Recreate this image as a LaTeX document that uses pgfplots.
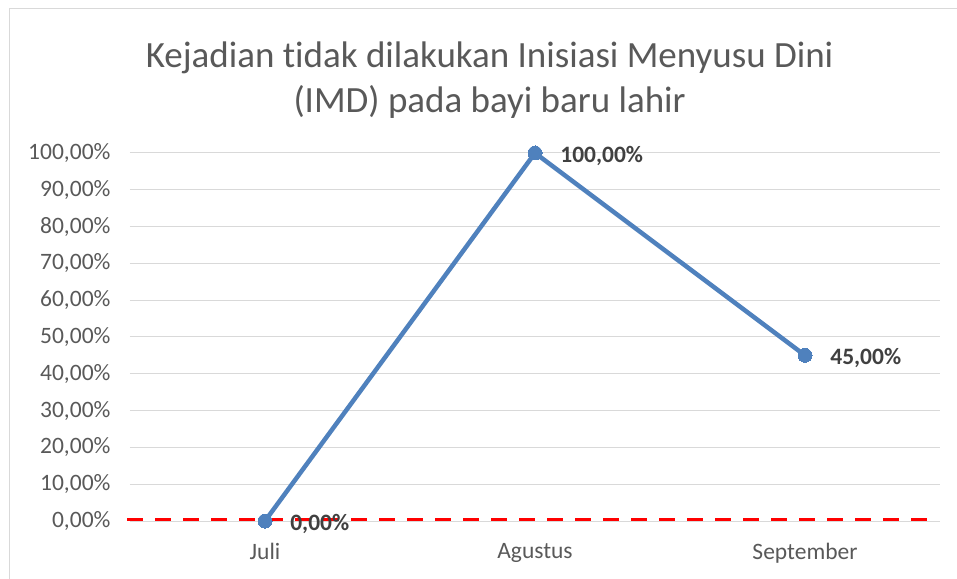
\documentclass[border=0pt]{standalone}
\usepackage{fontspec}
\setmainfont[RawFeature={-liga;-clig;-dlig;-calt}]{Carlito}
\usepackage{pgfplots}
\pgfplotsset{compat=1.18}
\definecolor{lineblue}{HTML}{4F81BD}
\definecolor{gridgray}{HTML}{D9D9D9}
\definecolor{textgray}{HTML}{595959}
\definecolor{labelgray}{HTML}{404040}
\definecolor{framegray}{HTML}{D9D9D9}

\begin{document}
\begin{tikzpicture}
\useasboundingbox (-130pt,-57pt) rectangle (827pt,521pt);
\draw[framegray, line width=1pt] (-120pt,-60pt) -- (-120pt,512pt) -- (830pt,512pt);
\begin{axis}[
    at={(0,0)}, anchor=south west,
    scale only axis,
    width=810pt, height=368pt,
    xmin=-0.5, xmax=2.5,
    ymin=0, ymax=100,
    xtick={0,1,2},
    xticklabels={Juli,Agustus,September},
    ytick={0,10,...,100},
    yticklabels={0{,}00\%,10{,}00\%,20{,}00\%,30{,}00\%,40{,}00\%,50{,}00\%,60{,}00\%,70{,}00\%,80{,}00\%,90{,}00\%,100{,}00\%},
    axis line style={draw=none},
    major tick style={draw=none},
    ymajorgrids,
    grid style={gridgray, line width=1pt},
    tick label style={font=\fontsize{23.5}{28}\selectfont, text=textgray},
    xticklabel style={yshift=-19pt},
    yticklabel style={xshift=-16pt},
    clip=false,
    title={Kejadian tidak dilakukan Inisiasi Menyusu Dini\\(IMD) pada bayi baru lahir},
    title style={at={(0.444,1)}, anchor=south, align=center, yshift=25pt,
        font=\fontsize{37}{45}\selectfont, text=textgray},
]
\addplot[lineblue, line width=4.5pt, mark=*, mark size=7pt,
    mark options={fill=lineblue, draw=lineblue, line width=0pt},
    point meta=explicit symbolic,
    nodes near coords,
    every node near coord/.append style={anchor=west, xshift=22pt, yshift=-3pt,
        font=\bfseries\fontsize{23.5}{28}\selectfont, text=labelgray}]
coordinates {(0,0) [0,00\%] (1,100) [100,00\%] (2,45) [45,00\%]};
\addplot[red, line width=3pt, dash pattern=on 16pt off 12pt]
coordinates {(-0.511,0.5) (2.456,0.5)};
\end{axis}
\end{tikzpicture}
\end{document}
